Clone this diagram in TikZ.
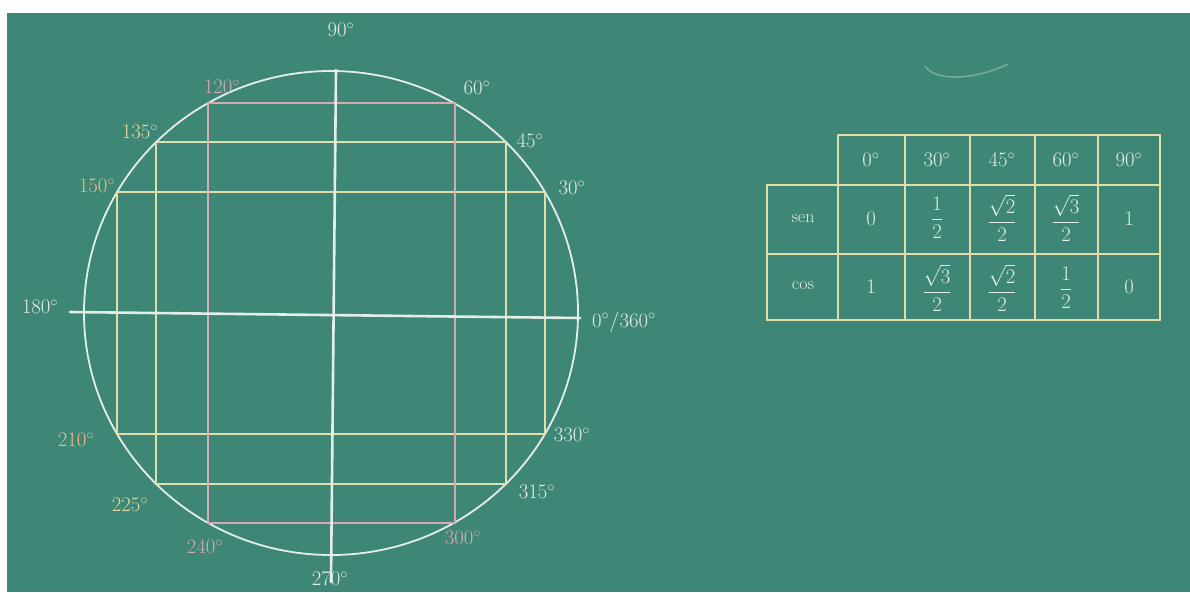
\documentclass[tikz,border=0pt]{standalone}
\usepackage{amsmath}
\definecolor{board}{RGB}{62,134,118}
\definecolor{chalkwhite}{RGB}{228,238,232}
\definecolor{chalkyellow}{RGB}{226,222,165}
\definecolor{chalkpale}{RGB}{218,226,175}
\definecolor{chalkpink}{RGB}{214,170,178}
\definecolor{chalkorange}{RGB}{240,186,130}
\begin{document}
\begin{tikzpicture}[x=1pt,y=-1pt,
    chalk/.style={line width=2pt,line cap=round},
    lbl/.style={font=\fontsize{20}{22}\selectfont,inner sep=0pt},
    cell/.style={font=\fontsize{20}{22}\selectfont,text=chalkwhite,inner sep=0pt}]
  \useasboundingbox (0,0) rectangle (1190,592);
  \fill[white] (0,0) rectangle (1190,592);
  \fill[board] (7,13) rectangle (1190,592);

  % points on the circle
  \foreach \a in {0,30,45,60,90,120,135,150,180,210,225,240,270,300,315,330}
    \coordinate (p\a) at ({331+247*cos(\a)},{313-242*sin(\a)});

  % circle
  \draw[chalk,chalkwhite,line width=1.8pt] (331,313) ellipse [x radius=247pt, y radius=242pt];

  % rectangles
  \draw[chalk,chalkyellow] (p30) -- (p150) -- (p210) -- (p330) -- cycle;
  \draw[chalk,chalkpale] (p45) -- (p135) -- (p225) -- (p315) -- cycle;
  \draw[chalk,chalkpink] (p60) -- (p120) -- (p240) -- (p300) -- cycle;

  % axes
  \coordinate (axL) at (70,312);
  \coordinate (axR) at (580,318);
  \coordinate (axT) at (336,70);
  \coordinate (axB) at (331,582);
  \draw[chalk,chalkwhite,line width=2.6pt] (axL) -- (axR);
  \draw[chalk,chalkwhite,line width=2.6pt] (axT) -- (axB);

  % angle labels
  \node[lbl,text=chalkwhite] (l90) at (341,30) {$90^\circ$};
  \node[lbl,text=chalkwhite] (l60) at (477,88) {$60^\circ$};
  \node[lbl,text=chalkwhite] (l45) at (530,141) {$45^\circ$};
  \node[lbl,text=chalkwhite] (l30) at (572,188) {$30^\circ$};
  \node[lbl,text=chalkwhite] (l0) at (624,322) {$0^\circ/360^\circ$};
  \node[lbl,text=chalkwhite] (l330) at (572,435) {$330^\circ$};
  \node[lbl,text=chalkwhite] (l315) at (537,492) {$315^\circ$};
  \node[lbl,text=chalkpink] (l300) at (463,538) {$300^\circ$};
  \node[lbl,text=chalkwhite] (l270) at (330,579) {$270^\circ$};
  \node[lbl,text=chalkpink] (l240) at (205,547) {$240^\circ$};
  \node[lbl,text=chalkyellow] (l225) at (130,505) {$225^\circ$};
  \node[lbl,text=chalkorange] (l210) at (76,440) {$210^\circ$};
  \node[lbl,text=chalkwhite] (l180) at (40,307) {$180^\circ$};
  \node[lbl,text=chalkorange] (l150) at (97,186) {$150^\circ$};
  \node[lbl,text=chalkyellow] (l135) at (140,132) {$135^\circ$};
  \node[lbl,text=chalkpink] (l120) at (222,87) {$120^\circ$};

  % faint smudge
  \draw[chalkwhite,opacity=0.35,line width=1.5pt,line cap=round]
    (925,66) .. controls (935,82) and (975,80) .. (1008,64);

  % table grid
  \draw[chalk,chalkyellow] (838,135) -- (1160,135);
  \foreach \y in {185,254,320}
    \draw[chalk,chalkyellow] (767,\y) -- (1160,\y);
  \draw[chalk,chalkyellow] (767,185) -- (767,320);
  \foreach \x in {838,905,970,1035,1098,1160}
    \draw[chalk,chalkyellow] (\x,135) -- (\x,320);

  % table header
  \node[cell] (h0) at (871,160) {$0^\circ$};
  \node[cell] (h30) at (937,160) {$30^\circ$};
  \node[cell] (h45) at (1002,160) {$45^\circ$};
  \node[cell] (h60) at (1066,160) {$60^\circ$};
  \node[cell] (h90) at (1129,160) {$90^\circ$};

  % sen row
  \node[cell,font=\fontsize{18}{20}\selectfont] (rsen) at (803,219) {sen};
  \node[cell] (s0) at (871,219) {$0$};
  \node[cell] (s30) at (937,218) {$\dfrac{1}{2}$};
  \node[cell] (s45) at (1002,218) {$\dfrac{\sqrt{2}}{2}$};
  \node[cell] (s60) at (1066,218) {$\dfrac{\sqrt{3}}{2}$};
  \node[cell] (s90) at (1129,219) {$1$};

  % cos row
  \node[cell,font=\fontsize{18}{20}\selectfont] (rcos) at (803,286) {cos};
  \node[cell] (c0) at (871,287) {$1$};
  \node[cell] (c30) at (937,288) {$\dfrac{\sqrt{3}}{2}$};
  \node[cell] (c45) at (1002,288) {$\dfrac{\sqrt{2}}{2}$};
  \node[cell] (c60) at (1066,288) {$\dfrac{1}{2}$};
  \node[cell] (c90) at (1129,287) {$0$};
\end{tikzpicture}
\end{document}
